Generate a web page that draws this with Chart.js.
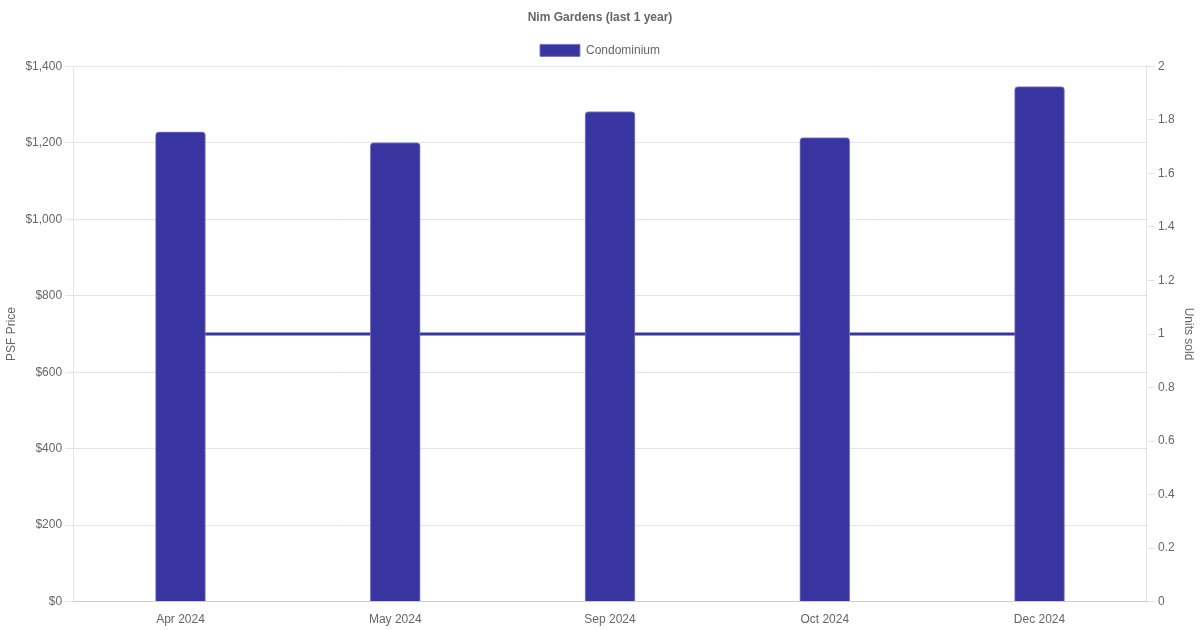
<!DOCTYPE html>
<html>
<head>
<meta charset="utf-8">
<script src="https://cdn.jsdelivr.net/npm/chart.js@4"></script>
<style>
  html, body { margin: 0; padding: 0; background: #fff; }
  #wrap { width: 1200px; height: 630px; }
</style>
</head>
<body>
<div id="wrap"><canvas id="psfChart"></canvas></div>
<script>
// --- data ---
const months = ['Apr 2024', 'May 2024', 'Sep 2024', 'Oct 2024', 'Dec 2024'];
const psfPrices = [1229, 1201, 1282, 1214, 1347];
const unitsSold = [1, 1, 1, 1, 1];

const barColor = '#3835a0';

Chart.defaults.font.family = "'Liberation Sans', Arial, sans-serif";
Chart.defaults.color = '#666';

const ctx = document.getElementById('psfChart').getContext('2d');
new Chart(ctx, {
    type: 'bar',
    data: {
        labels: months,
        datasets: [
            {
                label: 'Condominium',
                data: psfPrices,
                backgroundColor: barColor,
                borderColor: 'rgba(120,117,200,0.9)',
                borderWidth: 1,
                borderRadius: 4,
                barThickness: 50,
                yAxisID: 'y'
            },
            {
                type: 'line',
                label: 'Units sold',
                data: unitsSold,
                borderColor: barColor,
                backgroundColor: barColor,
                borderWidth: 3,
                pointRadius: 0,
                yAxisID: 'y1'
            }
        ]
    },
    options: {
        responsive: true,
        maintainAspectRatio: false,
        animation: false,
        plugins: {
            title: {
                display: true,
                text: 'Nim Gardens (last 1 year)',
                font: { size: 12, weight: 'bold' },
                padding: { top: 10, bottom: 10 }
            },
            legend: {
                labels: {
                    filter: item => item.datasetIndex === 0,
                    font: { size: 12 }
                }
            },
            tooltip: { enabled: false }
        },
        scales: {
            x: {
                grid: { display: false },
                ticks: { font: { size: 12 } }
            },
            y: {
                position: 'left',
                min: 0,
                max: 1400,
                ticks: {
                    stepSize: 200,
                    font: { size: 12 },
                    callback: v => '$' + v.toLocaleString('en-US')
                },
                title: { display: true, text: 'PSF Price', font: { size: 12 } }
            },
            y1: {
                position: 'right',
                min: 0,
                max: 2,
                grid: { drawOnChartArea: false },
                ticks: {
                    stepSize: 0.2,
                    font: { size: 12 },
                    callback: v => String(Number(v.toFixed(1)))
                },
                title: { display: true, text: 'Units sold', font: { size: 12 } }
            }
        }
    }
});
</script>
</body>
</html>
